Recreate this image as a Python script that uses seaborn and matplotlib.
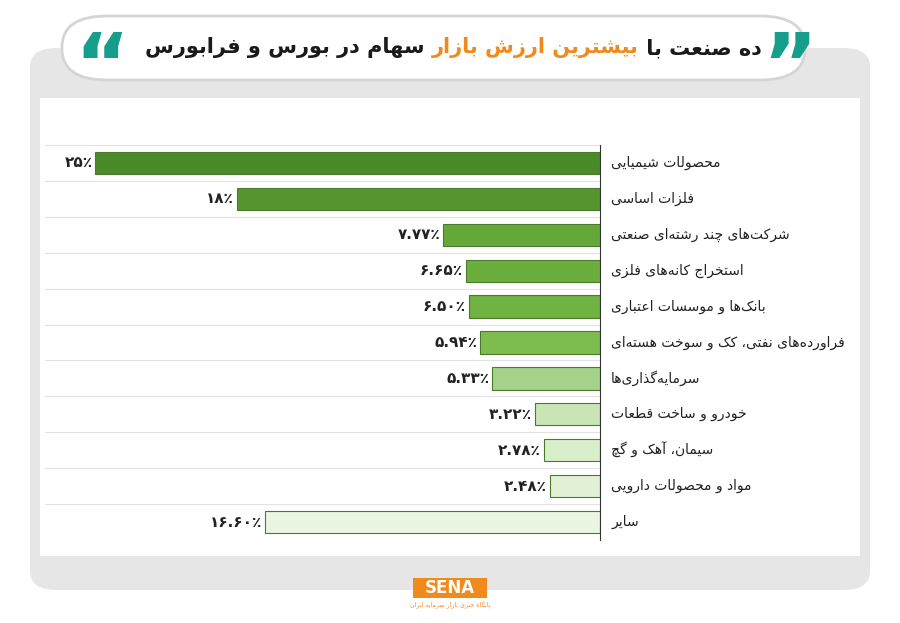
import matplotlib
matplotlib.use("Agg")
import matplotlib.pyplot as plt
import seaborn as sns
from matplotlib.patches import FancyBboxPatch, Rectangle

# data
categories = ["محصولات شیمیایی", "فلزات اساسی", "شرکت‌های چند رشته‌ای صنعتی", "استخراج کانه‌های فلزی",
              "بانک‌ها و موسسات اعتباری", "فراورده‌های نفتی، کک و سوخت هسته‌ای", "سرمایه‌گذاری‌ها",
              "خودرو و ساخت قطعات", "سیمان، آهک و گچ", "مواد و محصولات دارویی", "سایر"]
values = [25, 18, 7.77, 6.65, 6.50, 5.94, 5.33, 3.22, 2.78, 2.48, 16.60]
value_labels = ["25٪", "18٪", "7.77٪", "6.65٪", "6.50٪", "5.94٪", "5.33٪", "3.22٪", "2.78٪", "2.48٪", "16.60٪"]
bar_colors = ["#4a8a2a", "#55952f", "#64a83a", "#6aaf3e", "#6fb342", "#7dbd50", "#a5d28a",
              "#c9e5b6", "#d9eecb", "#e1f1d6", "#eaf5e2"]
title_parts = ["ده صنعت با ", "بیشترین ارزش بازار", " سهام در بورس و فرابورس"]

# --- minimal Persian shaping (matplotlib has no complex text layout) ---
FORMS = {
    "ا": (0xFE8D, 0xFE8E), "آ": (0xFE81, 0xFE82), "د": (0xFEA9, 0xFEAA), "ذ": (0xFEAB, 0xFEAC),
    "ر": (0xFEAD, 0xFEAE), "ز": (0xFEAF, 0xFEB0), "ژ": (0xFB8A, 0xFB8B), "و": (0xFEED, 0xFEEE),
    "ب": (0xFE8F, 0xFE90, 0xFE91, 0xFE92), "پ": (0xFB56, 0xFB57, 0xFB58, 0xFB59),
    "ت": (0xFE95, 0xFE96, 0xFE97, 0xFE98), "ث": (0xFE99, 0xFE9A, 0xFE9B, 0xFE9C),
    "ج": (0xFE9D, 0xFE9E, 0xFE9F, 0xFEA0), "چ": (0xFB7A, 0xFB7B, 0xFB7C, 0xFB7D),
    "ح": (0xFEA1, 0xFEA2, 0xFEA3, 0xFEA4), "خ": (0xFEA5, 0xFEA6, 0xFEA7, 0xFEA8),
    "س": (0xFEB1, 0xFEB2, 0xFEB3, 0xFEB4), "ش": (0xFEB5, 0xFEB6, 0xFEB7, 0xFEB8),
    "ص": (0xFEB9, 0xFEBA, 0xFEBB, 0xFEBC), "ض": (0xFEBD, 0xFEBE, 0xFEBF, 0xFEC0),
    "ط": (0xFEC1, 0xFEC2, 0xFEC3, 0xFEC4), "ظ": (0xFEC5, 0xFEC6, 0xFEC7, 0xFEC8),
    "ع": (0xFEC9, 0xFECA, 0xFECB, 0xFECC), "غ": (0xFECD, 0xFECE, 0xFECF, 0xFED0),
    "ف": (0xFED1, 0xFED2, 0xFED3, 0xFED4), "ق": (0xFED5, 0xFED6, 0xFED7, 0xFED8),
    "ک": (0xFB8E, 0xFB8F, 0xFB90, 0xFB91), "گ": (0xFB92, 0xFB93, 0xFB94, 0xFB95),
    "ل": (0xFEDD, 0xFEDE, 0xFEDF, 0xFEE0), "م": (0xFEE1, 0xFEE2, 0xFEE3, 0xFEE4),
    "ن": (0xFEE5, 0xFEE6, 0xFEE7, 0xFEE8), "ه": (0xFEE9, 0xFEEA, 0xFEEB, 0xFEEC),
    "ی": (0xFBFC, 0xFBFD, 0xFBFE, 0xFBFF),
}
FA_DIGITS = str.maketrans("0123456789", "۰۱۲۳۴۵۶۷۸۹")


def joins_next(c):
    return c in FORMS and len(FORMS[c]) == 4


def fa(text):
    out = []
    for i, c in enumerate(text):
        if c == "\u200c":
            continue
        if c not in FORMS:
            out.append(c)
            continue
        prev = text[i - 1] if i > 0 else ""
        nxt = text[i + 1] if i + 1 < len(text) else ""
        a = joins_next(prev)
        b = joins_next(c) and nxt in FORMS
        f = FORMS[c]
        if a and b:
            out.append(chr(f[3]))
        elif a:
            out.append(chr(f[1]))
        elif b:
            out.append(chr(f[2]))
        else:
            out.append(chr(f[0]))
    return "".join(out)[::-1]


plt.rcParams["font.family"] = ["DejaVu Sans"]
W, H = 900, 623
fig = plt.figure(figsize=(9, 6.23), dpi=100)


def fx(px):
    return px / W


def fy(py):
    return 1 - py / H


# background panels
fig.patches.append(FancyBboxPatch((fx(30), fy(590)), fx(840), 542 / H,
                                  boxstyle="round,pad=0,rounding_size=0.03", transform=fig.transFigure,
                                  fc="#e6e6e6", ec="none", zorder=0))
fig.patches.append(Rectangle((fx(40), fy(556)), fx(820), 458 / H, transform=fig.transFigure,
                             fc="white", ec="none", zorder=0))
fig.patches.append(FancyBboxPatch((fx(62), fy(80)), fx(743), 64 / H,
                                  boxstyle="round,pad=0,rounding_size=0.05", transform=fig.transFigure,
                                  fc="white", ec="#d5d5d5", lw=2, zorder=1))

# title (right to left pieces)
fig.canvas.draw()
renderer = fig.canvas.get_renderer()
x = fx(762)
for part, col in zip(title_parts, ["#1a1a1a", "#f08a1c", "#1a1a1a"]):
    t = fig.text(x, fy(48), fa(part), ha="right", va="center", fontsize=15, fontweight="bold", color=col)
    bb = t.get_window_extent(renderer)
    x -= bb.width / W
fig.text(fx(102), fy(70), "\u201c", ha="center", va="center", fontsize=60,
         fontweight="bold", color="#169e8c")
fig.text(fx(790), fy(70), "\u201d", ha="center", va="center", fontsize=60,
         fontweight="bold", color="#169e8c")

# chart
ax = fig.add_axes([fx(45), fy(540), fx(555), 395 / H])
ax.set_zorder(3)
ax.patch.set_alpha(0)
sns.barplot(x=values, y=list(range(len(values))), hue=list(range(len(values))), orient="h",
            palette=bar_colors, legend=False, ax=ax, width=0.62, edgecolor="#4a7a2a", linewidth=0.8,
            saturation=1)
ax.set_xlim(27.5, 0)
ax.set_ylim(len(values) - 0.5, -0.5)
for i in range(len(values) + 1):
    ax.axhline(i - 0.5, color="#e2e2e2", lw=0.8, zorder=0)
for s in ["top", "left", "bottom"]:
    ax.spines[s].set_visible(False)
ax.spines["right"].set_color("#333333")
ax.set_xticks([])
ax.set_yticks([])
ax.set_xlabel("")
ax.set_ylabel("")
for i, (v, lab, cat) in enumerate(zip(values, value_labels, categories)):
    ax.text(v + 0.15, i, lab.translate(FA_DIGITS), ha="right", va="center", fontsize=11,
            fontweight="bold", color="#222222")
    ax.text(1.02, i, fa(cat), transform=ax.get_yaxis_transform(), ha="left", va="center",
            fontsize=10, color="#222222", clip_on=False)

# logo
fig.patches.append(Rectangle((fx(413), fy(598)), fx(74), 20 / H, transform=fig.transFigure,
                             fc="#f08a1c", ec="none"))
fig.text(fx(450), fy(588), "SENA", ha="center", va="center", fontsize=12, fontweight="bold", color="white")
fig.text(fx(450), fy(605), fa("پایگاه خبری بازار سرمایه ایران"), ha="center", va="center",
         fontsize=4.5, color="#f08a1c")

fig.savefig("out.png", dpi=100, facecolor="white")
